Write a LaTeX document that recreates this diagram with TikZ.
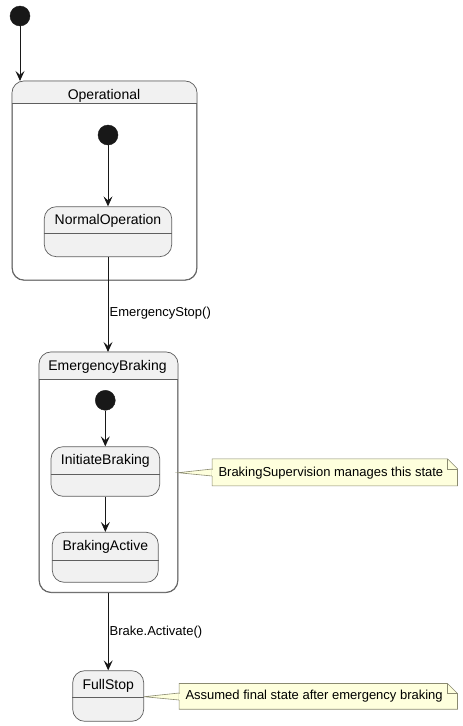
\documentclass[tikz,border=0pt]{standalone}
\usepackage{fontspec}
\setmainfont{Liberation Sans}
\usetikzlibrary{arrows.meta,calc}
\definecolor{stfill}{HTML}{F1F1F1}
\definecolor{stline}{HTML}{5F5F5F}
\definecolor{arr}{HTML}{181818}
\definecolor{notefill}{HTML}{FEFFDD}
\definecolor{noteline}{HTML}{8A8A70}
\tikzset{
  statebox/.style={draw=stline, fill=stfill, line width=0.7pt, rounded corners=12pt, inner sep=0pt},
  compbox/.style={draw=stline, fill=white, line width=0.7pt, rounded corners=12pt, inner sep=0pt},
  headfill/.style={fill=stfill, rounded corners=12pt},
  initdot/.style={circle, fill=arr, draw=arr, minimum size=20pt, inner sep=0pt},
  sttitle/.style={font=\fontsize{14pt}{16pt}\selectfont, text=black, inner sep=0pt},
  trans/.style={draw=arr, line width=0.9pt, -{Stealth[length=10pt,width=9pt,inset=4pt]}},
  tlabel/.style={font=\fontsize{13pt}{15pt}\selectfont, text=black, inner sep=0pt, anchor=west},
  notetext/.style={font=\fontsize{13pt}{15pt}\selectfont, text=black, inner sep=0pt},
  divider/.style={draw=stline, line width=0.7pt},
  notebody/.style={draw=noteline, fill=notefill, line width=0.6pt},
}
\begin{document}
\begin{tikzpicture}[x=1pt,y=-1pt]
\useasboundingbox (0,0) rectangle (463,726);
% top initial
\node[initdot] (i0) at (20,16) {};
% Operational composite
\node[compbox, minimum width=184.4pt, minimum height=198.7pt] (op) at (104.5,180.65) {};
\fill[stfill] (op.west |- 0,103.3) [rounded corners=12pt] -- (op.north west) -- (op.north east) [sharp corners] -- (op.east |- 0,103.3) -- cycle;
\draw[compbox, fill=none] (op.north west) rectangle (op.south east);
\draw[divider] (op.west |- 0,103.3) -- (op.east |- 0,103.3);
\node[sttitle] (opt) at (104,95.5) {Operational};
\node[initdot] (i1) at (108,135) {};
\node[statebox, minimum width=127.4pt, minimum height=50pt] (norm) at (108,231.7) {};
\draw[divider] (norm.west |- 0,233.3) -- (norm.east |- 0,233.3);
\node[sttitle] (normt) at (108,220.5) {NormalOperation};
% EmergencyBraking composite
\node[compbox, minimum width=138.4pt, minimum height=240pt] (eb) at (108.5,472.3) {};
\fill[stfill] (eb.west |- 0,379.3) [rounded corners=12pt] -- (eb.north west) -- (eb.north east) [sharp corners] -- (eb.east |- 0,379.3) -- cycle;
\draw[compbox, fill=none] (eb.north west) rectangle (eb.south east);
\draw[divider] (eb.west |- 0,379.3) -- (eb.east |- 0,379.3);
\node[sttitle] (ebt) at (107.5,367) {EmergencyBraking};
\node[initdot] (i2) at (105.3,400.3) {};
\node[statebox, minimum width=108.7pt, minimum height=49.6pt] (ib) at (105.35,471.5) {};
\draw[divider] (ib.west |- 0,474.7) -- (ib.east |- 0,474.7);
\node[sttitle] (ibt) at (105.35,461.3) {InitiateBraking};
\node[statebox, minimum width=106pt, minimum height=50pt] (ba) at (105.3,557.3) {};
\draw[divider] (ba.west |- 0,560.7) -- (ba.east |- 0,560.7);
\node[sttitle] (bat) at (105.3,547) {BrakingActive};
% FullStop
\node[statebox, minimum width=71pt, minimum height=50.6pt] (fs) at (108.2,696) {};
\draw[divider] (fs.west |- 0,697.3) -- (fs.east |- 0,697.3);
\node[sttitle] (fst) at (108.2,686.3) {FullStop};
% transitions
\draw[trans] (i0) -- (i0 |- op.north);
\draw[trans] (i1) -- (i1 |- norm.north);
\draw[trans] (norm.south) -- (norm.south |- eb.north);
\node[tlabel] (l1) at (109.5,313) {EmergencyStop()};
\draw[trans] (i2) -- (i2 |- ib.north);
\draw[trans] (ib.south) -- (ib.south |- ba.north);
\draw[trans] (eb.south -| fs.north) -- (fs.north);
\node[tlabel] (l2) at (109.5,632.3) {Brake.Activate()};
% note 1
\node[minimum width=245pt, minimum height=26.7pt, inner sep=0pt] (n1) at (334.8,472.35) {};
\path[notebody] (n1.north west) -- ($(n1.north east)+(-10,0)$) -- ($(n1.north east)+(0,10)$) -- (n1.south east) -- (n1.south west) -- cycle;
\draw[draw=noteline, line width=0.6pt] ($(n1.north east)+(-10,0)$) -- ($(n1.north east)+(-10,10)$) -- ($(n1.north east)+(0,10)$);
\path[notebody] (eb.east |- 0,472.7) -- (n1.west |- 0,469) -- (n1.west |- 0,476) -- cycle;
\draw[draw=notefill, line width=1pt] ($(n1.west |- 0,469.5)+(0.4,0)$) -- ($(n1.west |- 0,475.5)+(0.4,0)$);
\node[notetext, anchor=west] (n1t) at (218.3,473.5) {BrakingSupervision manages this state};
% note 2
\node[minimum width=278pt, minimum height=25.3pt, inner sep=0pt] (n2) at (318.3,696.35) {};
\path[notebody] (n2.north west) -- ($(n2.north east)+(-10,0)$) -- ($(n2.north east)+(0,10)$) -- (n2.south east) -- (n2.south west) -- cycle;
\draw[draw=noteline, line width=0.6pt] ($(n2.north east)+(-10,0)$) -- ($(n2.north east)+(-10,10)$) -- ($(n2.north east)+(0,10)$);
\path[notebody] (fs.east |- 0,696.7) -- (n2.west |- 0,693) -- (n2.west |- 0,700) -- cycle;
\draw[draw=notefill, line width=1pt] ($(n2.west |- 0,693.5)+(0.4,0)$) -- ($(n2.west |- 0,699.5)+(0.4,0)$);
\node[notetext, anchor=west] (n2t) at (185.3,696.5) {Assumed final state after emergency braking};
\end{tikzpicture}
\end{document}
